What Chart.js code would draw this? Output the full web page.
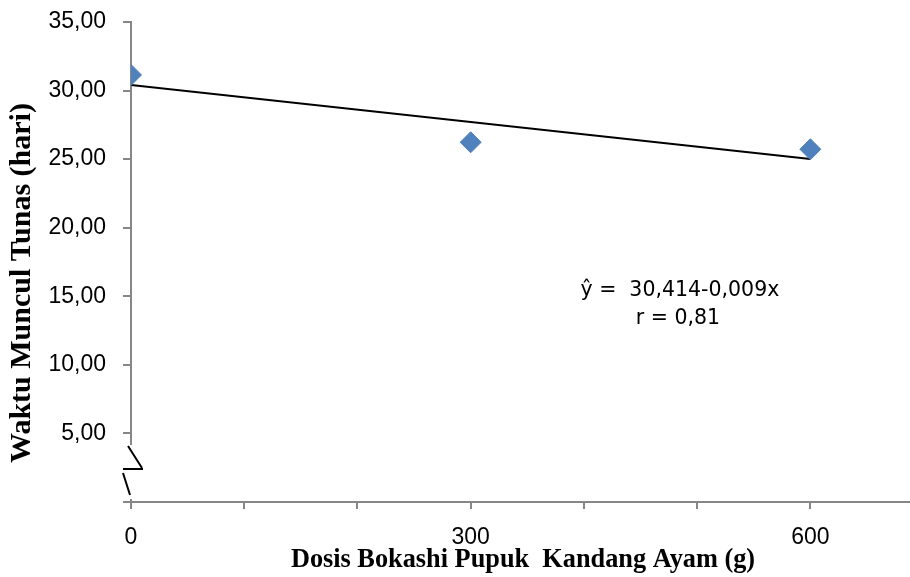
<!DOCTYPE html>
<html>
<head>
<meta charset="utf-8">
<script src="https://cdn.jsdelivr.net/npm/chart.js@4/dist/chart.umd.min.js"></script>
<style>
  html, body { margin: 0; padding: 0; background: #fff; }
  #wrap { width: 910px; height: 577px; position: relative; }
</style>
</head>
<body>
<div id="wrap"><canvas id="chart"></canvas></div>
<script>
// data
const doses = [0, 300, 600];
const sproutDays = [31.14, 26.23, 25.72];

// regression line y = 30,414 - 0,009x drawn over the dose range
const trendX = [0, 600];
const trendY = [30.414, 25.014];

const xTickLabels = [0, 300, 600];
const yTickValues = [0, 5, 10, 15, 20, 25, 30, 35];

const equationText = "ŷ =  30,414-0,009x";
const rText = "r = 0,81";
const xTitle = "Dosis Bokashi Pupuk  Kandang Ayam (g)";
const yTitle = "Waktu Muncul Tunas (hari)";

const axisGray = "#878787";
const tickFont = '"Liberation Sans", Arial, sans-serif';
const titleFont = '"Liberation Serif", "Times New Roman", serif';

// titles, equation and the broken y axis near zero
const extras = {
  id: "extras",
  afterDraw(chart) {
    const ctx = chart.ctx;
    const xs = chart.scales.x;
    const ys = chart.scales.y;
    const x0 = xs.getPixelForValue(0);
    const yBase = ys.getPixelForValue(0);
    ctx.save();

    // break in the y axis
    ctx.fillStyle = "#fff";
    ctx.fillRect(x0 - 3, yBase - 57, 6, 54);
    ctx.strokeStyle = "#000";
    ctx.lineWidth = 2;
    ctx.beginPath();
    ctx.moveTo(x0 - 3, yBase - 56);
    ctx.lineTo(x0 + 11, yBase - 34);
    ctx.moveTo(x0 - 8, yBase - 33);
    ctx.lineTo(x0 + 12, yBase - 33);
    ctx.moveTo(x0 - 8, yBase - 29);
    ctx.lineTo(x0 - 1, yBase - 7);
    ctx.stroke();

    // regression equation
    ctx.fillStyle = "#000";
    ctx.font = '20.5px "DejaVu Sans", sans-serif';
    ctx.textBaseline = "middle";
    ctx.textAlign = "left";
    ctx.fillText(equationText, xs.getPixelForValue(397), ys.getPixelForValue(15.39));
    ctx.textAlign = "center";
    ctx.fillText(rText, xs.getPixelForValue(483), ys.getPixelForValue(13.38));

    // axis titles
    ctx.font = "bold 26.3px " + titleFont;
    ctx.textAlign = "center";
    ctx.fillText(xTitle, 523, 560);
    ctx.translate(22, 283);
    ctx.rotate(-Math.PI / 2);
    ctx.font = "bold 30px " + titleFont;
    ctx.fillText(yTitle, 0, 0);
    ctx.restore();
  },
};

new Chart(document.getElementById("chart"), {
  type: "scatter",
  data: {
    datasets: [
      {
        label: "Waktu muncul tunas",
        data: doses.map((d, i) => ({ x: d, y: sproutDays[i] })),
        pointStyle: "rectRot",
        pointRadius: 10.5,
        pointHoverRadius: 10.5,
        backgroundColor: "#4F81BD",
        borderColor: "#4F81BD",
        borderWidth: 1,
        order: 1,
      },
      {
        type: "line",
        label: "Regresi",
        data: trendX.map((d, i) => ({ x: d, y: trendY[i] })),
        borderColor: "#000",
        borderWidth: 2,
        pointRadius: 0,
        fill: false,
        order: 2,
      },
    ],
  },
  options: {
    responsive: true,
    maintainAspectRatio: false,
    animation: false,
    layout: { autoPadding: false, padding: { top: 22, right: 0, left: 0, bottom: 0 } },
    plugins: {
      legend: { display: false },
      tooltip: { enabled: false },
    },
    scales: {
      x: {
        type: "linear",
        min: 0,
        max: 688,
        afterBuildTicks: (scale) => {
          scale.ticks = [0, 100, 200, 300, 400, 500, 600].map((v) => ({ value: v }));
        },
        afterFit: (scale) => {
          scale.height = 75;
          scale.paddingLeft = 0;
          scale.paddingRight = 0;
        },
        ticks: {
          color: "#000",
          font: { family: tickFont, size: 23 },
          padding: 15,
          maxRotation: 0,
          autoSkip: false,
          callback: (v) => (xTickLabels.includes(v) ? String(v) : ""),
        },
        grid: { display: true, drawOnChartArea: false, drawTicks: true, tickLength: 7, color: axisGray, lineWidth: 2 },
        border: { color: axisGray, width: 2 },
      },
      y: {
        min: 0,
        max: 35,
        afterBuildTicks: (scale) => {
          scale.ticks = yTickValues.map((v) => ({ value: v }));
        },
        afterFit: (scale) => {
          scale.width = 131;
          scale.paddingTop = 0;
          scale.paddingBottom = 0;
        },
        ticks: {
          color: "#000",
          font: { family: tickFont, size: 23 },
          padding: 17,
          callback: (v) => (v === 0 ? "" : v.toFixed(2).replace(".", ",")),
        },
        grid: { display: true, drawOnChartArea: false, drawTicks: true, tickLength: 8, color: axisGray, lineWidth: 2 },
        border: { color: axisGray, width: 2 },
      },
    },
  },
  plugins: [extras],
});
</script>
</body>
</html>
